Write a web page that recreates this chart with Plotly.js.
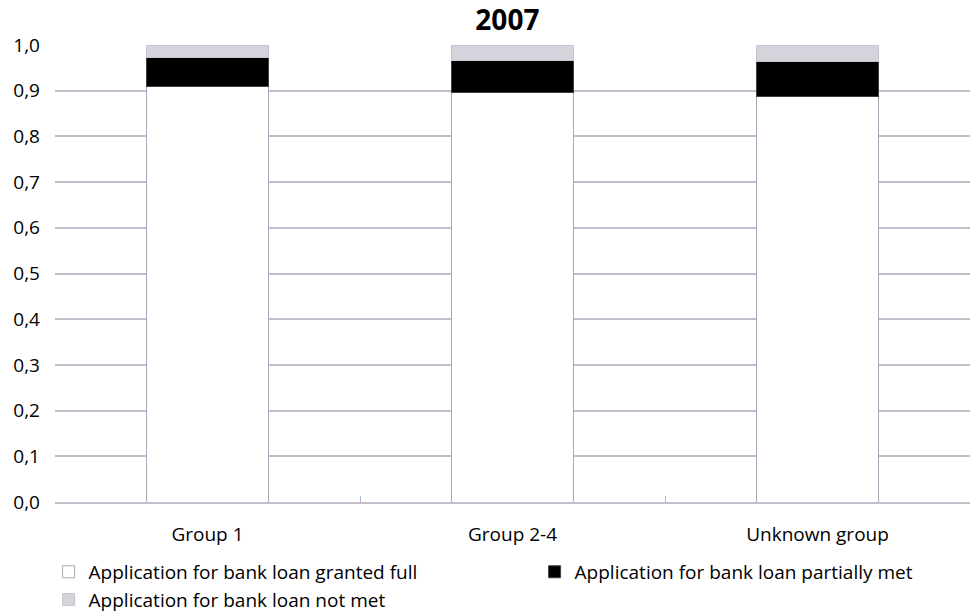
<!DOCTYPE html>
<html>
<head>
<meta charset="utf-8">
<script src="https://cdn.plot.ly/plotly-3.0.1.min.js"></script>
<style>html,body{margin:0;padding:0;background:#fff;}#chart{width:972px;height:613px;}</style>
</head>
<body>
<div id="chart"></div>
<script>
const categories = ["Group 1", "Group 2-4", "Unknown group"];
const grantedFull = [0.910, 0.895, 0.888];
const partiallyMet = [0.062, 0.070, 0.075];
const notMet = [0.028, 0.035, 0.037];
const seriesNames = ["Application for bank loan granted full", "Application for bank loan partially met", "Application for bank loan not met"];

const traces = [
  {type: 'bar', name: seriesNames[0], x: categories, y: grantedFull, legend: 'legend',
   marker: {color: '#ffffff', line: {color: '#a8a8b8', width: 1}}},
  {type: 'bar', name: seriesNames[1], x: categories, y: partiallyMet, legend: 'legend2',
   marker: {color: '#000000', line: {color: '#404040', width: 1}}},
  {type: 'bar', name: seriesNames[2], x: categories, y: notMet, legend: 'legend',
   marker: {color: '#d6d3dc', line: {color: '#c8c4d0', width: 1}}}
];

const legendBase = {
  orientation: 'v', xref: 'container', yref: 'container', xanchor: 'left', yanchor: 'top',
  font: {size: 19}, itemwidth: 30, tracegroupgap: 0, traceorder: 'normal', bgcolor: 'rgba(0,0,0,0)'
};

const layout = {
  width: 972, height: 613,
  barmode: 'stack',
  bargap: 0.6,
  separators: ',.',
  font: {family: '"Open Sans", "Noto Sans", sans-serif', color: '#000', size: 18},
  title: {text: '<b>2007</b>', x: 0.522, xref: 'container', y: 0.967, yref: 'container', yanchor: 'middle', font: {size: 28, color: '#000'}},
  margin: {l: 55, r: 2, t: 45, b: 111, autoexpand: false},
  paper_bgcolor: '#fff', plot_bgcolor: '#fff',
  xaxis: {
    type: 'category', showgrid: false, zeroline: false,
    showline: true, linecolor: '#c4bccb', linewidth: 2,
    ticks: 'inside', tickson: 'boundaries', ticklen: 6, tickcolor: '#a8b8d8',
    tickfont: {size: 19}, ticklabelstandoff: 14
  },
  yaxis: {
    range: [0, 1], dtick: 0.1, tickformat: '.1f',
    showgrid: true, gridcolor: '#c4bccb', gridwidth: 2,
    zeroline: false, showline: false, ticks: '', ticklabelstandoff: 14,
    tickfont: {size: 19}
  },
  showlegend: true,
  legend: Object.assign({}, legendBase, {x: 0.05, y: 0.098}),
  legend2: Object.assign({}, legendBase, {x: 0.55, y: 0.098})
};

Plotly.newPlot('chart', traces, layout, {displayModeBar: false, staticPlot: true});
</script>
</body>
</html>
